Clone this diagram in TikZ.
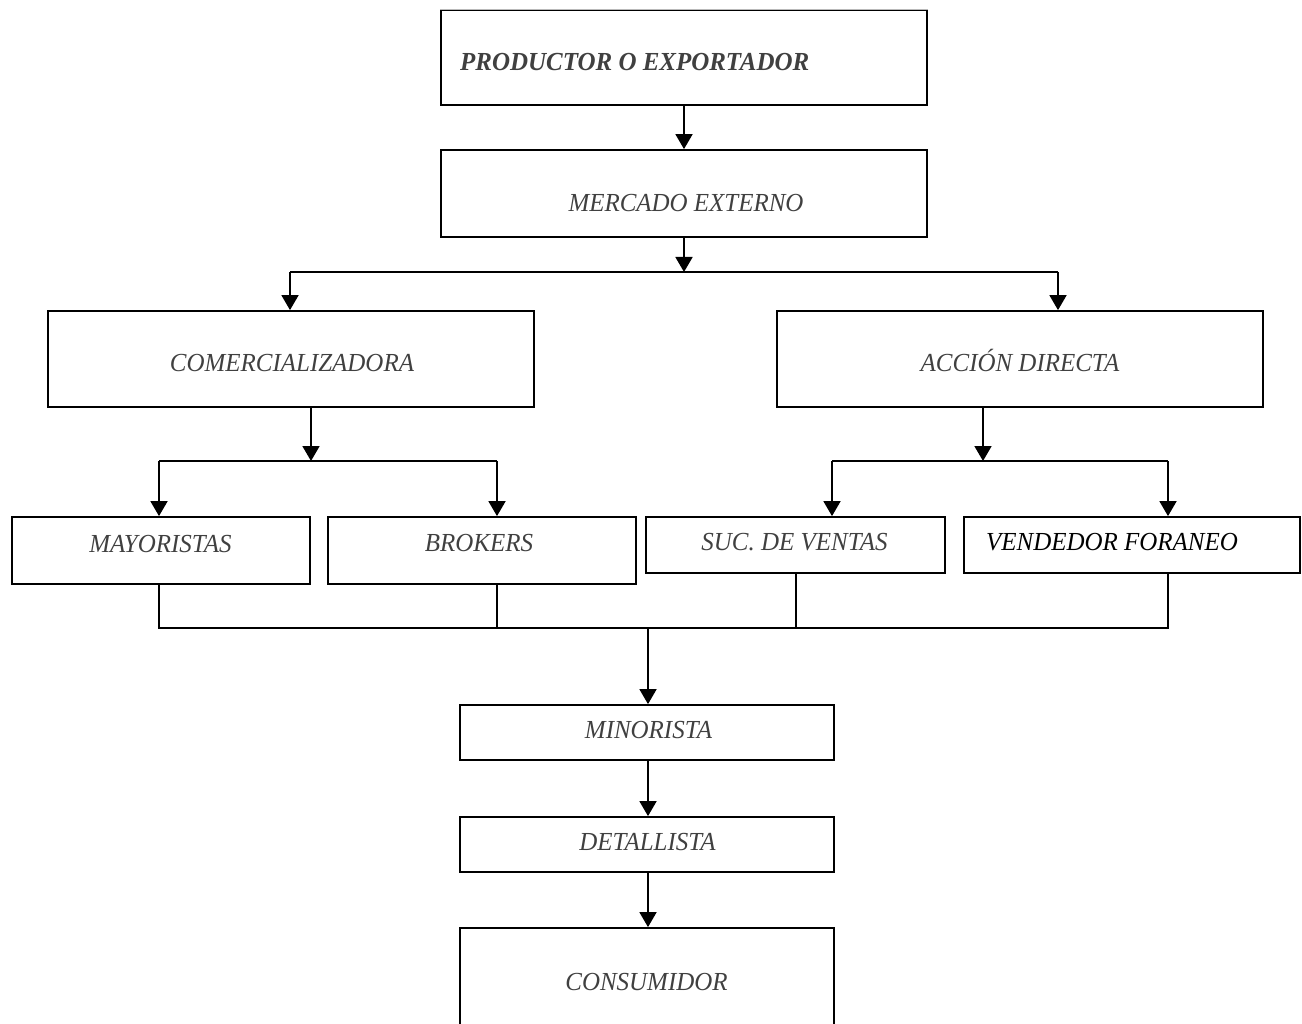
\documentclass[tikz,border=0pt]{standalone}
\usepackage{fontspec}
\setmainfont{Liberation Serif}[FakeStretch=0.96]
\usetikzlibrary{arrows.meta}
\definecolor{txtgray}{HTML}{404040}
\tikzset{
  box/.style={draw=black, line width=1.8pt, rectangle, inner sep=0pt},
  lbl/.style={anchor=base, inner sep=0pt, text=txtgray,
    font=\fontsize{26}{30}\selectfont\itshape},
  link/.style={draw=black, line width=1.8pt},
  arr/.style={link, -{Triangle[width=17pt,length=15pt]}},
}
\begin{document}
\begin{tikzpicture}[x=1pt,y=-1pt]
\useasboundingbox (0,0) rectangle (1302,1024);
\begin{scope}
\clip (0,0) rectangle (1302,1024);

% stage 1: origin and market
\node[box, minimum width=486pt, minimum height=95pt] (prod) at (684,57.5) {};
\draw[gray!55, line width=1pt] (prod.north west) -- (prod.north east);
\node[lbl, anchor=base west, font=\fontsize{26}{30}\selectfont\bfseries\itshape]
  (prodt) at (460,71) {PRODUCTOR O EXPORTADOR};
\node[box, minimum width=486pt, minimum height=87pt] (merc) at (684,193.5) {};
\node[lbl] (merct) at (686,212) {MERCADO EXTERNO};

% stage 2: channels
\node[box, minimum width=486pt, minimum height=96pt] (com) at (291,359) {};
\node[lbl] (comt) at (292,372) {COMERCIALIZADORA};
\node[box, minimum width=486pt, minimum height=96pt] (acc) at (1020,359) {};
\node[lbl] (acct) at (1020,372) {ACCIÓN DIRECTA};

% stage 3: intermediaries
\node[box, minimum width=298pt, minimum height=67pt] (may) at (161,550.5) {};
\node[lbl] (mayt) at (160.5,552) {MAYORISTAS};
\node[box, minimum width=308pt, minimum height=67pt] (bro) at (482,550.5) {};
\node[lbl] (brot) at (479,551) {BROKERS};
\node[box, minimum width=299pt, minimum height=56pt] (suc) at (795.5,545) {};
\node[lbl] (suct) at (794.5,550) {SUC. DE VENTAS};
\node[box, minimum width=336pt, minimum height=56pt] (ven) at (1132,545) {};
\node[lbl, anchor=base west, text=black] (vent) at (986,550) {VENDEDOR FORANEO};

% stage 4: retail chain
\node[box, minimum width=374pt, minimum height=55pt] (min) at (647,732.5) {};
\node[lbl] (mint) at (648.5,738) {MINORISTA};
\node[box, minimum width=374pt, minimum height=55pt] (det) at (647,844.5) {};
\node[lbl] (dett) at (647.5,850) {DETALLISTA};
\node[box, minimum width=374pt, minimum height=108pt] (con) at (647,982) {};
\node[lbl] (cont) at (646.5,990) {CONSUMIDOR};

% junction points
\coordinate (j1) at (684,272);
\coordinate (j1l) at (290,272);
\coordinate (j1r) at (1058,272);
\coordinate (j2) at (311,461);
\coordinate (j2l) at (159,461);
\coordinate (j2r) at (497,461);
\coordinate (j3) at (983,461);
\coordinate (j3l) at (832,461);
\coordinate (j3r) at (1168,461);
\coordinate (j4) at (648,628);
\coordinate (j5) at (796,628);

% connectors
\draw[arr] (prod.south) -- (merc.north);
\draw[arr] (merc.south) -- (j1);
\draw[link] (j1l) -- (j1r);
\draw[arr] (j1l) -- (j1l |- com.north);
\draw[arr] (j1r) -- (j1r |- acc.north);

\draw[arr] (com.south -| j2) -- (j2);
\draw[link] (j2l) -- (j2r);
\draw[arr] (j2l) -- (j2l |- may.north);
\draw[arr] (j2r) -- (j2r |- bro.north);

\draw[arr] (acc.south -| j3) -- (j3);
\draw[link] (j3l) -- (j3r);
\draw[arr] (j3l) -- (j3l |- suc.north);
\draw[arr] (j3r) -- (j3r |- ven.north);

\draw[link] (may.south -| j2l) -- (j2l |- j4) -- (j3r |- j4) -- (ven.south -| j3r);
\draw[link] (bro.south -| j2r) -- (j2r |- j4);
\draw[link] (suc.south -| j5) -- (j5);
\draw[arr] (j4) -- (min.north -| j4);
\draw[arr] (min.south -| j4) -- (det.north -| j4);
\draw[arr] (det.south -| j4) -- (con.north -| j4);
\end{scope}
\end{tikzpicture}
\end{document}
